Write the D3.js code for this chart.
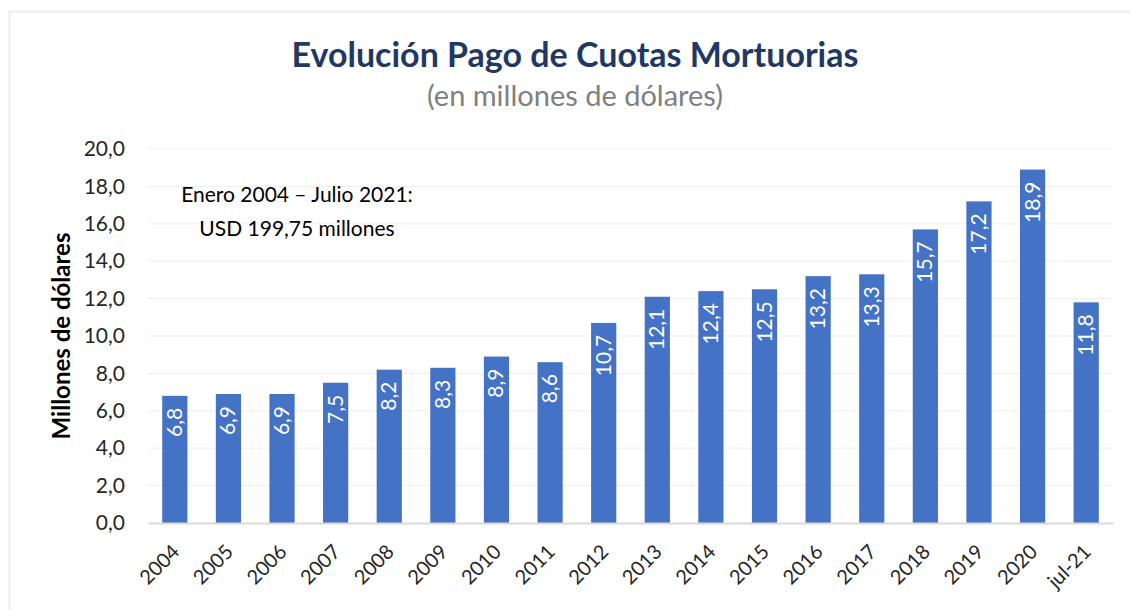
<!DOCTYPE html>
<html>
<head>
<meta charset="utf-8">
<script src="https://cdn.jsdelivr.net/npm/d3@7"></script>
<style>
  body { margin: 0; background: #fff; }
  svg { font-family: Lato, "Open Sans", sans-serif; }
</style>
</head>
<body>
<div id="chart"></div>
<script>
// data
const categories = ["2004", "2005", "2006", "2007", "2008", "2009", "2010", "2011", "2012",
  "2013", "2014", "2015", "2016", "2017", "2018", "2019", "2020", "jul-21"];
const values = [6.8, 6.9, 6.9, 7.5, 8.2, 8.3, 8.9, 8.6, 10.7, 12.1, 12.4, 12.5, 13.2, 13.3, 15.7, 17.2, 18.9, 11.8];
const yTicks = [0, 2, 4, 6, 8, 10, 12, 14, 16, 18, 20];
const noteLines = ["Enero 2004 – Julio 2021:", "USD 199,75 millones"];

const W = 1130, H = 610;
const margin = { top: 149, right: 17, bottom: 87, left: 148 };
const width = W - margin.left - margin.right;
const height = H - margin.top - margin.bottom;

const fmt = v => d3.format(".1f")(v).replace(".", ",");

const root = d3.select("#chart").append("svg")
  .attr("width", W)
  .attr("height", H);

// light frame around the chart
root.append("rect")
  .attr("x", 9.5).attr("y", 11.5)
  .attr("width", W + 10).attr("height", H + 10)
  .attr("fill", "none")
  .attr("stroke", "#ececec")
  .attr("stroke-width", 2);

// title
root.append("text")
  .attr("x", 575).attr("y", 67)
  .attr("text-anchor", "middle")
  .style("font-size", "34px")
  .style("font-weight", "bold")
  .style("fill", "#1f3864")
  .text("Evolución Pago de Cuotas Mortuorias");

root.append("text")
  .attr("x", 575).attr("y", 106)
  .attr("text-anchor", "middle")
  .style("font-size", "29px")
  .style("fill", "#808080")
  .text("(en millones de dólares)");

const svg = root.append("g")
  .attr("transform", `translate(${margin.left}, ${margin.top})`);

const x = d3.scaleBand()
  .domain(categories)
  .range([0, width])
  .paddingInner(0.53)
  .paddingOuter(0.265);

const y = d3.scaleLinear()
  .domain([0, 20])
  .range([height, 0]);

// gridlines
svg.append("g")
  .selectAll("line")
  .data(yTicks.filter(d => d > 0))
  .join("line")
  .attr("x1", 0).attr("x2", width)
  .attr("y1", d => y(d)).attr("y2", d => y(d))
  .attr("stroke", "#efefef")
  .attr("stroke-width", 1);

// y axis labels
const yAxis = svg.append("g")
  .call(d3.axisLeft(y).tickValues(yTicks).tickFormat(fmt).tickSize(0).tickPadding(23));
yAxis.select(".domain").remove();
yAxis.selectAll("text")
  .style("font-family", "Lato, 'Open Sans', sans-serif")
  .style("font-size", "21px")
  .style("fill", "#262626");

// bars
svg.selectAll(".bar")
  .data(values)
  .join("rect")
  .attr("class", "bar")
  .attr("x", (d, i) => x(categories[i]))
  .attr("y", d => y(d))
  .attr("width", x.bandwidth())
  .attr("height", d => height - y(d))
  .attr("fill", "#4472c4");

// value labels inside the bars
svg.selectAll(".val")
  .data(values)
  .join("text")
  .attr("class", "val")
  .attr("transform", (d, i) => `translate(${x(categories[i]) + x.bandwidth() / 2 + 7}, ${y(d) + 12}) rotate(-90)`)
  .attr("text-anchor", "end")
  .style("font-size", "21px")
  .style("fill", "#fff")
  .text(d => fmt(d));

// x axis
const xAxis = svg.append("g")
  .attr("transform", `translate(0, ${height})`)
  .call(d3.axisBottom(x).tickSize(0).tickPadding(0));
xAxis.select(".domain")
  .attr("stroke", "#d9d9d9")
  .attr("stroke-width", 2);
xAxis.selectAll("text")
  .style("font-family", "Lato, 'Open Sans', sans-serif")
  .style("font-size", "20px")
  .style("fill", "#262626")
  .attr("text-anchor", "end")
  .attr("y", 0)
  .attr("dy", 0)
  .attr("transform", "translate(6, 30) rotate(-45)");

// y axis title
root.append("text")
  .attr("transform", "translate(70, 336) rotate(-90)")
  .attr("text-anchor", "middle")
  .style("font-size", "24px")
  .style("font-weight", "bold")
  .style("fill", "#000")
  .text("Millones de dólares");

// note
root.append("g")
  .selectAll("text")
  .data(noteLines)
  .join("text")
  .attr("x", 297)
  .attr("y", (d, i) => 202 + i * 34)
  .attr("text-anchor", "middle")
  .style("font-size", "21px")
  .style("fill", "#000")
  .text(d => d);
</script>
</body>
</html>
